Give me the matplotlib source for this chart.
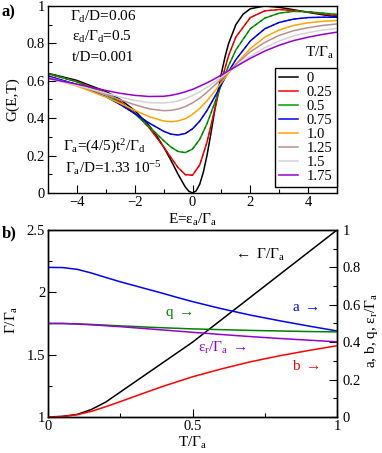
import matplotlib
matplotlib.use("Agg")
import matplotlib.pyplot as plt
from matplotlib.ticker import MultipleLocator

plt.rcParams['font.family'] = ['Liberation Serif', 'DejaVu Serif']
plt.rcParams['font.size'] = 11
plt.rcParams['mathtext.fontset'] = 'custom'
plt.rcParams['mathtext.rm'] = 'Liberation Serif'
plt.rcParams['mathtext.it'] = 'Liberation Serif'
plt.rcParams['mathtext.bf'] = 'Liberation Serif:bold'

# panel a: G(E,T)
# T=0 curve is sharper, so it gets a finer grid round the dip
E0 = [-5, -4, -3, -2.5, -2, -1.5, -1.25, -1, -0.75, -0.5, -0.25, -0.125, 0, 0.125, 0.25,
      0.375, 0.5, 0.625, 0.75, 0.875, 1, 1.125, 1.25, 1.5, 1.75, 2, 2.5, 3, 3.5, 4, 4.5, 5]
G_T000 = [0.640, 0.602, 0.543, 0.500, 0.441, 0.360, 0.308, 0.246, 0.176, 0.100, 0.032, 0.009,
          0.000, 0.011, 0.047, 0.111, 0.200, 0.308, 0.424, 0.537, 0.640, 0.728, 0.800, 0.900,
          0.956, 0.985, 1.000, 0.993, 0.980, 0.966, 0.953, 0.943]
E = [-5, -4, -3, -2.5, -2, -1.5, -1, -0.75, -0.5, -0.25, 0, 0.25, 0.5, 0.75,
     1, 1.25, 1.5, 2, 2.5, 3, 3.5, 4, 4.5, 5]
G_T025 = [0.637, 0.596, 0.533, 0.488, 0.428, 0.349, 0.247, 0.190, 0.136, 0.098, 0.095, 0.150,
          0.271, 0.434, 0.599, 0.735, 0.834, 0.938, 0.974, 0.981, 0.976, 0.968, 0.958, 0.948]
G_T050 = [0.639, 0.594, 0.527, 0.481, 0.424, 0.355, 0.280, 0.246, 0.222, 0.216, 0.235, 0.287,
          0.370, 0.474, 0.582, 0.681, 0.765, 0.878, 0.935, 0.962, 0.971, 0.969, 0.962, 0.955]
G_T075 = [0.626, 0.580, 0.515, 0.473, 0.425, 0.374, 0.330, 0.315, 0.310, 0.318, 0.343, 0.384,
          0.441, 0.509, 0.580, 0.650, 0.713, 0.813, 0.878, 0.912, 0.930, 0.938, 0.940, 0.940]
G_T100 = [0.617, 0.572, 0.513, 0.479, 0.442, 0.408, 0.385, 0.381, 0.385, 0.397, 0.420, 0.452,
          0.493, 0.540, 0.591, 0.641, 0.689, 0.772, 0.833, 0.872, 0.896, 0.910, 0.918, 0.922]
G_T125 = [0.619, 0.577, 0.526, 0.498, 0.472, 0.450, 0.440, 0.442, 0.449, 0.462, 0.482, 0.507,
          0.539, 0.574, 0.611, 0.649, 0.687, 0.755, 0.805, 0.843, 0.868, 0.884, 0.896, 0.904]
G_T150 = [0.612, 0.575, 0.534, 0.513, 0.495, 0.483, 0.481, 0.485, 0.492, 0.505, 0.521, 0.541,
          0.565, 0.591, 0.619, 0.648, 0.677, 0.731, 0.777, 0.813, 0.840, 0.858, 0.871, 0.880]
G_T175 = [0.613, 0.582, 0.548, 0.533, 0.522, 0.516, 0.517, 0.522, 0.530, 0.541, 0.554, 0.571,
          0.589, 0.609, 0.631, 0.654, 0.676, 0.720, 0.759, 0.790, 0.815, 0.833, 0.848, 0.860]
grids = [E0, E, E, E, E, E, E, E]
curves = [G_T000, G_T025, G_T050, G_T075, G_T100, G_T125, G_T150, G_T175]
labels = ['0', '0.25', '0.5', '0.75', '1.0', '1.25', '1.5', '1.75']
colors = ['black', '#ff0000', '#00a000', '#0000ff', '#ffa500', '#bc8f8f', '#d3d3d3', '#9400d3']
fit_colors = {1: '#c00000', 2: '#007000', 3: '#0000c0'}

# panel b: fit parameters vs T
T = [0, 0.05, 0.1, 0.15, 0.2, 0.25, 0.3, 0.35, 0.4, 0.45, 0.5, 0.6, 0.7, 0.8, 0.9, 1.0]
gamma = [1.0, 1.005, 1.02, 1.06, 1.12, 1.20, 1.28, 1.36, 1.44, 1.52, 1.60, 1.78, 1.96, 2.14, 2.32, 2.50]
a_par = [0.800, 0.799, 0.790, 0.770, 0.746, 0.723, 0.702, 0.681, 0.660, 0.638, 0.617,
         0.579, 0.545, 0.515, 0.487, 0.460]
q_par = [0.500, 0.500, 0.498, 0.495, 0.491, 0.487, 0.484, 0.480, 0.477, 0.474, 0.471,
         0.467, 0.463, 0.460, 0.457, 0.455]
er_par = [0.500, 0.500, 0.497, 0.493, 0.488, 0.483, 0.477, 0.471, 0.465, 0.459, 0.453,
          0.441, 0.430, 0.420, 0.411, 0.402]
b_par = [0.000, 0.002, 0.012, 0.030, 0.055, 0.082, 0.110, 0.138, 0.165, 0.190, 0.215,
         0.257, 0.295, 0.327, 0.355, 0.381]

fig = plt.figure(figsize=(3.82, 4.53), dpi=100)
ax1 = fig.add_axes([0.1257, 0.574, 0.7565, 0.4128])
ax2 = fig.add_axes([0.1257, 0.0795, 0.7565, 0.4128])
ax3 = ax2.twinx()


def style(ax, **kw):
    ax.tick_params(which='both', direction='in', labelsize=10.5, **kw)
    ax.tick_params(which='major', length=6, width=0.8)
    ax.tick_params(which='minor', length=3, width=0.8)
    for s in ax.spines.values():
        s.set_linewidth(1.0)


fmt = plt.FuncFormatter(lambda v, p: '%g' % v)

# ---- a)
for i, (x, g, lab, c) in enumerate(zip(grids, curves, labels, colors)):
    ax1.plot(x, g, color=c, lw=1.1, label=lab)
    if i in fit_colors:
        ax1.plot(x, g, color=fit_colors[i], lw=0.7, ls=(0, (3, 3)))
ax1.set_xlim(-5, 5)
ax1.set_ylim(0, 1)
ax1.xaxis.set_major_locator(MultipleLocator(2))
ax1.xaxis.set_minor_locator(MultipleLocator(1))
ax1.yaxis.set_major_locator(MultipleLocator(0.2))
ax1.yaxis.set_minor_locator(MultipleLocator(0.1))
ax1.yaxis.set_major_formatter(fmt)
style(ax1, pad=2)
ax1.text(-0.121, 0.5, 'G(E,T)', rotation=90, transform=ax1.transAxes, ha='center', va='center')
ax1.text(0.5, -0.145, r'E=$\varepsilon_a$/$\Gamma_a$', transform=ax1.transAxes, ha='center', va='center')

leg = ax1.legend(loc='lower right', bbox_to_anchor=(1.0, 0.03), borderaxespad=0,
                 fancybox=False, edgecolor='black', framealpha=1, fontsize=10.5,
                 handlelength=1.3, handletextpad=0.6, labelspacing=0.05, borderpad=0.3)
leg.get_frame().set_linewidth(1.0)
ax1.text(0.941, 0.749, r'T/$\Gamma_a$', transform=ax1.transAxes, ha='center', va='center')

ax1.text(0.076, 0.941, r'$\Gamma_d$/D=0.06', transform=ax1.transAxes, va='center')
ax1.text(0.083, 0.834, r'$\varepsilon_d$/$\Gamma_d$=0.5', transform=ax1.transAxes, va='center')
ax1.text(0.083, 0.727, 't/D=0.001', transform=ax1.transAxes, va='center')
ax1.text(0.052, 0.246, r'$\Gamma_a$=(4/5)t$^2$/$\Gamma_d$', transform=ax1.transAxes, va='center')
ax1.text(0.059, 0.134, r'$\Gamma_a$/D=1.33 10$^{-5}$', transform=ax1.transAxes, va='center')

# ---- b)
ax2.plot(T, gamma, color='black', lw=1.1)
ax3.plot(T, a_par, color='#0000ff', lw=1.1)
ax3.plot(T, q_par, color='#008000', lw=1.1)
ax3.plot(T, er_par, color='#9400d3', lw=1.1)
ax3.plot(T, b_par, color='#ff0000', lw=1.1)
ax2.set_xlim(0, 1)
ax2.set_ylim(1, 2.5)
ax3.set_ylim(0, 1)
ax2.xaxis.set_major_locator(MultipleLocator(0.5))
ax2.xaxis.set_minor_locator(MultipleLocator(0.25))
ax2.yaxis.set_major_locator(MultipleLocator(0.5))
ax2.yaxis.set_minor_locator(MultipleLocator(0.25))
ax3.yaxis.set_major_locator(MultipleLocator(0.2))
ax3.yaxis.set_minor_locator(MultipleLocator(0.1))
ax2.xaxis.set_major_formatter(fmt)
ax2.yaxis.set_major_formatter(fmt)
ax3.yaxis.set_major_formatter(fmt)
style(ax2, pad=2)
style(ax3, pad=4)
ax2.text(-0.125, 0.52, r'$\Gamma$/$\Gamma_a$', rotation=90, transform=ax2.transAxes, ha='center', va='center')
ax2.text(0.5, -0.14, r'T/$\Gamma_a$', transform=ax2.transAxes, ha='center', va='center')
ax2.text(1.121, 0.465, r'a, b, q, $\varepsilon_r$/$\Gamma_a$', rotation=90, transform=ax2.transAxes,
         ha='center', va='center')

ax2.text(0.64, 0.866, r'$\leftarrow$ $\Gamma$/$\Gamma_a$', transform=ax2.transAxes, va='center', color='black')
ax2.text(0.844, 0.588, r'a $\rightarrow$', transform=ax2.transAxes, va='center', color='#0000ff')
ax2.text(0.405, 0.551, r'q $\rightarrow$', transform=ax2.transAxes, va='center', color='#008000')
ax2.text(0.519, 0.369, r'$\varepsilon_r$/$\Gamma_a$ $\rightarrow$', transform=ax2.transAxes, va='center',
         color='#9400d3')
ax2.text(0.844, 0.273, r'b $\rightarrow$', transform=ax2.transAxes, va='center', color='#ff0000')

fig.text(0.005, 1 - 12 / 453, 'a)', fontweight='bold', fontsize=12, va='center')
fig.text(0.005, 1 - 233 / 453, 'b)', fontweight='bold', fontsize=12, va='center')

fig.savefig('out.png', dpi=100)
